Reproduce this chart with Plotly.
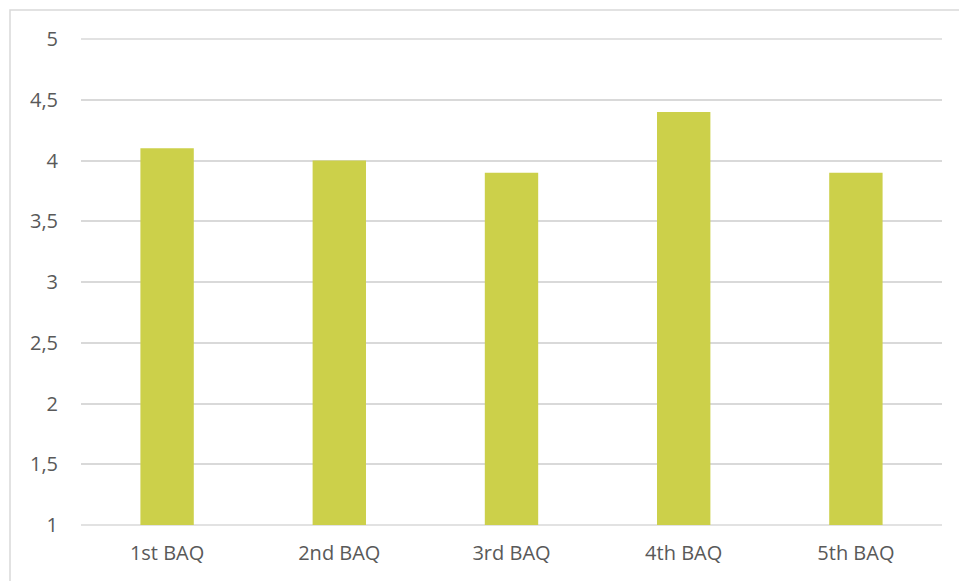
import plotly.graph_objects as go

categories = ["1st BAQ", "2nd BAQ", "3rd BAQ", "4th BAQ", "5th BAQ"]
values = [4.1, 4.0, 3.9, 4.4, 3.9]
y_ticks = [1, 1.5, 2, 2.5, 3, 3.5, 4, 4.5, 5]

W, H = 959, 581
L, R, T, B = 81, 17, 39, 56
pw, ph = W - L - R, H - T - B

fig = go.Figure(go.Bar(x=categories, y=values, marker=dict(color="#CCD04A", line=dict(width=0)),
                       hoverinfo="x+y"))

# the range runs exactly from first to last tick, so its edges are paper y=0 and y=1
edge_lines = [dict(type="line", xref="paper", yref="paper", x0=0, x1=1, y0=p, y1=p,
                   line=dict(color="#D9D9D9", width=1.5), layer="below")
              for p in (0, 1)]

fig.update_layout(
    width=W, height=H,
    margin=dict(l=L, r=R, t=T, b=B, pad=0),
    paper_bgcolor="white", plot_bgcolor="white",
    separators=",.",
    bargap=0.69,
    showlegend=False,
    font=dict(family="Open Sans, Liberation Sans, sans-serif", size=20, color="#595959"),
    xaxis=dict(showgrid=False, showline=False, ticks="", zeroline=False,
               tickfont=dict(size=20, color="#595959"), ticklabelstandoff=14),
    yaxis=dict(range=[y_ticks[0], y_ticks[-1]], tickvals=y_ticks, showgrid=True, gridcolor="#D9D9D9",
               gridwidth=1.5, zeroline=False, showline=False, ticks="", ticklabelstandoff=22,
               tickfont=dict(size=20, color="#595959")),
    shapes=[dict(type="rect", xref="paper", yref="paper",
                 x0=(10 - L) / pw, x1=(990 - L) / pw,
                 y0=-(620 - (T + ph)) / ph, y1=1 + (T - 10) / ph,
                 line=dict(color="#D9D9D9", width=1.5), fillcolor="rgba(0,0,0,0)", layer="below")]
           + edge_lines,
)

fig.write_html("out.html")
